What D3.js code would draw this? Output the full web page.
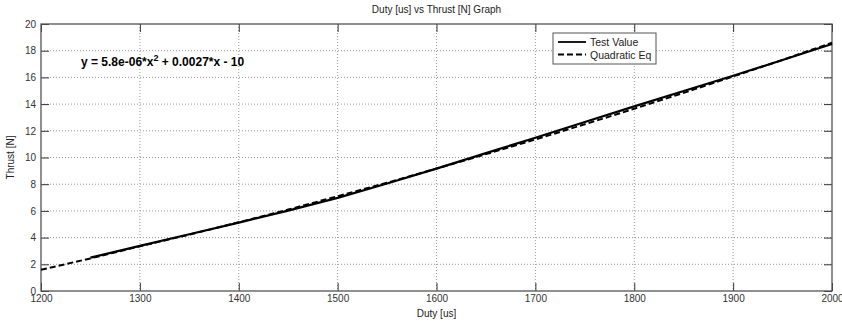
<!DOCTYPE html>
<html>
<head>
<meta charset="utf-8">
<script src="https://cdn.jsdelivr.net/npm/d3@7"></script>
<style>
  body { margin: 0; background: #fff; }
  svg { display: block; font-family: 'Liberation Sans', Arial, sans-serif; }
</style>
</head>
<body>
<div id="chart"></div>
<script>
// measured test data (Duty [us] -> Thrust [N])
const testDuty = [1250, 1300, 1350, 1400, 1450, 1500, 1550, 1600, 1650, 1700, 1750, 1800, 1850, 1900, 1950, 2000];
const testThrust = [2.5, 3.38, 4.25, 5.12, 6.02, 6.98, 8.05, 9.17, 10.33, 11.48, 12.66, 13.83, 14.98, 16.12, 17.3, 18.5];

// quadratic fit
const fitDuty = [1200, 1250, 1300, 1350, 1400, 1450, 1500, 1550, 1600, 1650, 1700, 1750, 1800, 1850, 1900, 1950, 2000];
const fitThrust = [1.59, 2.44, 3.35, 4.22, 5.15, 6.1, 7.1, 8.11, 9.17, 10.25, 11.35, 12.49, 13.65, 14.84, 16.07, 17.31, 18.6];

const xTicks = [1200, 1300, 1400, 1500, 1600, 1700, 1800, 1900, 2000];
const yTicks = [0, 2, 4, 6, 8, 10, 12, 14, 16, 18, 20];

const width = 842;
const height = 325;
const margin = { top: 24, right: 10, bottom: 34, left: 41 };
const innerW = width - margin.left - margin.right;
const innerH = height - margin.top - margin.bottom;

const svg = d3.select('#chart')
  .append('svg')
  .attr('width', width)
  .attr('height', height);

const g = svg.append('g')
  .attr('transform', `translate(${margin.left},${margin.top})`);

const x = d3.scaleLinear().domain([1200, 2000]).range([0, innerW]);
const y = d3.scaleLinear().domain([0, 20]).range([innerH, 0]);

// grid
g.append('g')
  .selectAll('line')
  .data(xTicks.slice(1, -1))
  .join('line')
  .attr('x1', (d) => x(d)).attr('x2', (d) => x(d))
  .attr('y1', 0).attr('y2', innerH)
  .attr('stroke', '#999')
  .attr('stroke-width', 1)
  .attr('stroke-dasharray', '1,2');

g.append('g')
  .selectAll('line')
  .data(yTicks.slice(1, -1))
  .join('line')
  .attr('x1', 0).attr('x2', innerW)
  .attr('y1', (d) => y(d)).attr('y2', (d) => y(d))
  .attr('stroke', '#999')
  .attr('stroke-width', 1)
  .attr('stroke-dasharray', '1,2');

// axes (ticks pointing inward, mirrored on top/right)
const tickLen = 8;
const styleAxis = (sel) => {
  sel.select('.domain').remove();
  sel.selectAll('.tick line').attr('stroke', '#333');
  sel.selectAll('.tick text')
    .attr('fill', '#333')
    .style('font-size', '10px');
};

g.append('g')
  .attr('transform', `translate(0,${innerH})`)
  .call(d3.axisBottom(x).tickValues(xTicks).tickFormat(d3.format('d')).tickSizeInner(-tickLen).tickSizeOuter(0).tickPadding(4))
  .call(styleAxis);

g.append('g')
  .call(d3.axisTop(x).tickValues(xTicks).tickFormat('').tickSizeInner(-tickLen).tickSizeOuter(0))
  .call(styleAxis);

g.append('g')
  .call(d3.axisLeft(y).tickValues(yTicks).tickFormat(d3.format('d')).tickSizeInner(-tickLen).tickSizeOuter(0).tickPadding(5))
  .call(styleAxis);

g.append('g')
  .attr('transform', `translate(${innerW},0)`)
  .call(d3.axisRight(y).tickValues(yTicks).tickFormat('').tickSizeInner(-tickLen).tickSizeOuter(0))
  .call(styleAxis);

// frame
g.append('rect')
  .attr('width', innerW)
  .attr('height', innerH)
  .attr('fill', 'none')
  .attr('stroke', '#555')
  .attr('stroke-width', 1.3);

// curves
const line = d3.line()
  .x((d) => x(d[0]))
  .y((d) => y(d[1]));

g.append('path')
  .datum(testDuty.map((d, i) => [d, testThrust[i]]))
  .attr('d', line)
  .attr('fill', 'none')
  .attr('stroke', '#000')
  .attr('stroke-width', 2.2);

g.append('path')
  .datum(fitDuty.map((d, i) => [d, fitThrust[i]]))
  .attr('d', line)
  .attr('fill', 'none')
  .attr('stroke', '#000')
  .attr('stroke-width', 2)
  .attr('stroke-dasharray', '6,3');

// equation annotation
const eq = svg.append('text')
  .attr('x', 81)
  .attr('y', 66)
  .attr('fill', '#000')
  .style('font-size', '12px')
  .style('font-weight', 'bold');
eq.append('tspan').text('y = 5.8e-06*x');
eq.append('tspan').attr('dy', -5).style('font-size', '9px').text('2');
eq.append('tspan').attr('dy', 5).text(' + 0.0027*x - 10');

// legend
const legend = svg.append('g').attr('transform', 'translate(553,33)');
legend.append('rect')
  .attr('width', 103)
  .attr('height', 31)
  .attr('fill', '#fff')
  .attr('stroke', '#555')
  .attr('stroke-width', 1);

const legendItems = [
  { label: 'Test Value', dash: null },
  { label: 'Quadratic Eq', dash: '6,3' },
];
legendItems.forEach((item, i) => {
  const row = legend.append('g').attr('transform', `translate(0,${9 + i * 12.5})`);
  row.append('line')
    .attr('x1', 5).attr('x2', 33)
    .attr('stroke', '#000')
    .attr('stroke-width', 1.8)
    .attr('stroke-dasharray', item.dash);
  row.append('text')
    .attr('x', 37)
    .attr('y', 4)
    .attr('fill', '#222')
    .style('font-size', '10.5px')
    .text(item.label);
});

// titles
svg.append('text')
  .attr('x', margin.left + innerW / 2)
  .attr('y', 13)
  .attr('text-anchor', 'middle')
  .attr('fill', '#222')
  .style('font-size', '10px')
  .text('Duty [us] vs Thrust [N] Graph');

svg.append('text')
  .attr('x', margin.left + innerW / 2)
  .attr('y', 317)
  .attr('text-anchor', 'middle')
  .attr('fill', '#222')
  .style('font-size', '10px')
  .text('Duty [us]');

svg.append('text')
  .attr('transform', `translate(14,${margin.top + innerH / 2}) rotate(-90)`)
  .attr('text-anchor', 'middle')
  .attr('fill', '#222')
  .style('font-size', '10px')
  .text('Thrust [N]');
</script>
</body>
</html>
